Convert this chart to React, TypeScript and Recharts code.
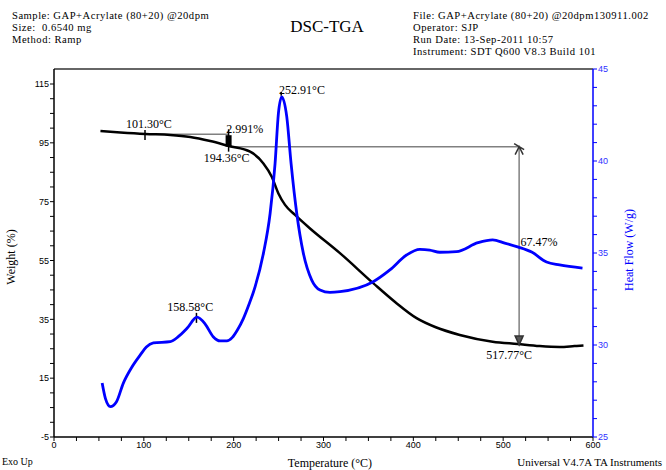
import React from 'react';
import { ComposedChart, Line, XAxis, YAxis, ReferenceLine, ReferenceDot } from 'recharts';

// Weight (%) curve
const weightTemp = [51.7, 73.9, 101.7, 129.4, 151.7, 173.9, 195.0, 218.3, 233.1, 242.4, 249.8, 257.2, 268.3, 285.0, 318.3, 355.3, 380.0, 403.6, 425.0, 451.7, 488.3, 516.1, 540.6, 562.8, 579.4, 589.4];
const weightPct = [99.0, 98.5, 98.0, 97.7, 97.0, 95.6, 93.9, 92.0, 88.0, 83.5, 77.8, 73.9, 70.5, 65.9, 57.5, 47.3, 40.8, 35.4, 32.3, 29.7, 27.4, 26.6, 25.9, 25.6, 25.9, 26.1];

// Heat flow (W/g) curve
const heatTemp = [53.6, 57.2, 62.8, 69.4, 77.2, 86.1, 96.1, 102.8, 110.6, 129.4, 138.3, 148.3, 159.1, 168.3, 177.2, 185.0, 192.4, 198.3, 204.0, 210.9, 217.0, 223.9, 233.1, 240.6, 246.1, 249.8, 253.5, 259.1, 263.9, 270.2, 277.6, 286.9, 296.1, 307.2, 318.3, 355.3, 373.9, 392.4, 407.2, 418.3, 429.4, 448.0, 472.0, 488.3, 501.7, 516.1, 531.7, 548.3, 562.8, 588.3];
const heatFlow = [27.93, 27.1, 26.65, 26.9, 27.93, 28.75, 29.46, 29.89, 30.11, 30.18, 30.45, 30.92, 31.51, 31.14, 30.45, 30.22, 30.22, 30.4, 30.8, 31.45, 32.2, 33.17, 34.98, 37.16, 39.87, 42.59, 43.49, 42.41, 39.87, 37.16, 34.98, 33.53, 32.99, 32.86, 32.9, 33.44, 34.08, 34.89, 35.2, 35.16, 35.04, 35.07, 35.56, 35.71, 35.54, 35.33, 35.05, 34.51, 34.35, 34.18];

// Axis ticks
const xTicks = [0, 25, 50, 75, 100, 125, 150, 175, 200, 225, 250, 275, 300, 325, 350, 375, 400, 425, 450, 475, 500, 525, 550, 575, 600];
const xLabels = [0, 100, 200, 300, 400, 500, 600];
const leftTicks = [-5, 0, 5, 10, 15, 20, 25, 30, 35, 40, 45, 50, 55, 60, 65, 70, 75, 80, 85, 90, 95, 100, 105, 110, 115];
const leftLabels = [-5, 15, 35, 55, 75, 95, 115];
const rightTicks = [25, 26, 27, 28, 29, 30, 31, 32, 33, 34, 35, 36, 37, 38, 39, 40, 41, 42, 43, 44, 45];
const rightLabels = [25, 30, 35, 40, 45];

// Analysis results
const onsetTemp = 101.3;
const onsetWeight = 97.9;
const step1Temp = 194.36;
const step1Weight = 93.7;
const step2Temp = 517.77;
const step2Weight = 26.3;
const dscPeak1Temp = 158.58;
const dscPeak1Weight = 35.5;
const dscPeak2Temp = 252.91;
const dscPeak2Weight = 111.0;

// Annotation texts (temperature, weight at label centre)
const annotations = [
  { text: '101.30°C', t: 105.6, w: 101.3 },
  { text: '2.991%', t: 212.2, w: 99.6 },
  { text: '194.36°C', t: 192.2, w: 89.9 },
  { text: '252.91°C', t: 276.1, w: 113.0 },
  { text: '158.58°C', t: 151.7, w: 39.2 },
  { text: '67.47%', t: 540.0, w: 61.3 },
  { text: '517.77°C', t: 506.7, w: 22.9 },
];

const weightData = weightTemp.map((t, i) => ({ t, w: weightPct[i] }));
const heatData = heatTemp.map((t, i) => ({ t, h: heatFlow[i] }));

const serif = 'Liberation Serif, Times New Roman, serif';
const sans = 'Liberation Sans, Arial, sans-serif';
const blue = '#0000ff';
const grey = '#808080';

const AnnText = (props: any) => {
  const { cx, cy, label } = props;
  return (
    <text x={cx} y={cy} textAnchor="middle" dominantBaseline="central" fontFamily={serif} fontSize={12} fill="#000">
      {label}
    </text>
  );
};

const ArrowUp = (props: any) => {
  const { cx, cy } = props;
  return <path d={`M${cx - 4},${cy + 8} L${cx},${cy} L${cx + 4},${cy + 8} M${cx - 5},${cy - 3} L${cx + 5},${cy + 3}`} stroke="#333" strokeWidth={1.5} fill="none" />;
};
const ArrowDown = (props: any) => {
  const { cx, cy } = props;
  return <path d={`M${cx - 4},${cy - 9} L${cx},${cy} L${cx + 4},${cy - 9} Z`} stroke="#333" strokeWidth={1.5} fill="#555" />;
};

export default function App() {
  return (
    <div style={{ position: 'absolute', left: 0, top: 0, width: 666, height: 470, background: '#fff' }}>
      <ComposedChart width={666} height={470} margin={{ top: 69, right: 33, bottom: 3, left: 14 }}>
        <XAxis
          type="number"
          dataKey="t"
          domain={[0, 600]}
          ticks={xTicks}
          interval={0}
          tickFormatter={(v: number) => (xLabels.includes(v) ? String(v) : '')}
          height={30}
          tickSize={4}
          tickMargin={1}
          axisLine={{ stroke: '#000', strokeWidth: 1.5 }}
          tickLine={{ stroke: '#000' }}
          tick={{ fill: '#000', fontSize: 9, fontFamily: sans }}
          allowDataOverflow
        />
        <YAxis
          yAxisId="left"
          type="number"
          domain={[-5, 120.1]}
          ticks={leftTicks}
          interval={0}
          tickFormatter={(v: number) => (leftLabels.includes(v) ? String(v) : '')}
          width={40}
          tickSize={4}
          tickMargin={1}
          axisLine={{ stroke: '#000', strokeWidth: 1.5 }}
          tickLine={{ stroke: '#000' }}
          tick={{ fill: '#000', fontSize: 9, fontFamily: sans }}
          allowDataOverflow
        />
        <YAxis
          yAxisId="right"
          orientation="right"
          type="number"
          domain={[25, 45]}
          ticks={rightTicks}
          interval={0}
          tickFormatter={(v: number) => (rightLabels.includes(v) ? String(v) : '')}
          width={40}
          tickSize={4}
          tickMargin={1}
          axisLine={{ stroke: blue, strokeWidth: 1.5 }}
          tickLine={{ stroke: blue }}
          tick={{ fill: '#3030ff', fontSize: 9, fontFamily: sans }}
          allowDataOverflow
        />
        <ReferenceLine yAxisId="left" y={120.1} stroke="#666" strokeWidth={2} />

        {/* step analysis lines */}
        <ReferenceLine yAxisId="left" segment={[{ x: onsetTemp, y: onsetWeight }, { x: step1Temp, y: onsetWeight }]} stroke={grey} strokeWidth={1.5} />
        <ReferenceLine yAxisId="left" segment={[{ x: step1Temp, y: step1Weight }, { x: step2Temp, y: step1Weight }]} stroke={grey} strokeWidth={1.5} />
        <ReferenceLine yAxisId="left" segment={[{ x: step2Temp, y: step1Weight }, { x: step2Temp, y: step2Weight }]} stroke={grey} strokeWidth={1.5} />
        <ReferenceLine yAxisId="left" segment={[{ x: onsetTemp, y: 99.4 }, { x: onsetTemp, y: 96.0 }]} stroke="#000" strokeWidth={1.5} />
        <ReferenceLine yAxisId="left" segment={[{ x: step1Temp, y: 97.6 }, { x: step1Temp, y: step1Weight }]} stroke="#000" strokeWidth={6} />
        <ReferenceLine yAxisId="left" segment={[{ x: step1Temp, y: 99.6 }, { x: step1Temp, y: 92.0 }]} stroke="#000" strokeWidth={1.5} />
        <ReferenceLine yAxisId="left" segment={[{ x: dscPeak1Temp, y: dscPeak1Weight + 1.7 }, { x: dscPeak1Temp, y: dscPeak1Weight - 1.7 }]} stroke="#000" strokeWidth={1.5} />
        <ReferenceLine yAxisId="left" segment={[{ x: dscPeak2Temp, y: dscPeak2Weight + 1.3 }, { x: dscPeak2Temp, y: dscPeak2Weight }]} stroke="#000" strokeWidth={1.5} />

        <Line yAxisId="left" data={weightData} dataKey="w" type="monotone" stroke="#000" strokeWidth={2.5} dot={false} isAnimationActive={false} />
        <Line yAxisId="right" data={heatData} dataKey="h" type="monotone" stroke={blue} strokeWidth={2.8} dot={false} isAnimationActive={false} />

        <ReferenceDot yAxisId="left" x={step2Temp} y={step1Weight} r={0} shape={ArrowUp} />
        <ReferenceDot yAxisId="left" x={step2Temp} y={step2Weight} r={0} shape={ArrowDown} />

        {annotations.map((a) => (
          <ReferenceDot
            key={a.text}
            yAxisId="left"
            x={a.t}
            y={a.w}
            r={0}
            shape={(p: any) => <AnnText {...p} label={a.text} />}
          />
        ))}
      </ComposedChart>
      <svg width={666} height={470} style={{ position: 'absolute', left: 0, top: 0, pointerEvents: 'none' }}>
        <g fontFamily={serif} fontSize={12} fill="#000">
          <g fontSize={10.6} letterSpacing={0.5}>
            <text x={12} y={18.5}>Sample: GAP+Acrylate (80+20) @20dpm</text>
            <text x={12} y={30.5} xmlSpace="preserve">Size:  0.6540 mg</text>
            <text x={12} y={42.5}>Method: Ramp</text>
            <text x={413} y={18.5}>File: GAP+Acrylate (80+20) @20dpm130911.002</text>
            <text x={413} y={30.5}>Operator: SJP</text>
            <text x={413} y={42.5}>Run Date: 13-Sep-2011 10:57</text>
            <text x={413} y={54.5}>Instrument: SDT Q600 V8.3 Build 101</text>
          </g>
          <text x={327} y={32} fontSize={17} textAnchor="middle">DSC-TGA</text>
          <text x={330} y={467} textAnchor="middle">Temperature (°C)</text>
          <text x={2} y={465} fontSize={10}>Exo Up</text>
          <text x={662} y={466} fontSize={11} textAnchor="end">Universal V4.7A TA Instruments</text>
          <text x={15} y={257} textAnchor="middle" transform="rotate(-90 15 257)">Weight (%)</text>
          <text x={633} y={250} textAnchor="middle" fill={blue} transform="rotate(-90 633 250)">Heat Flow (W/g)</text>
        </g>
      </svg>
    </div>
  );
}
